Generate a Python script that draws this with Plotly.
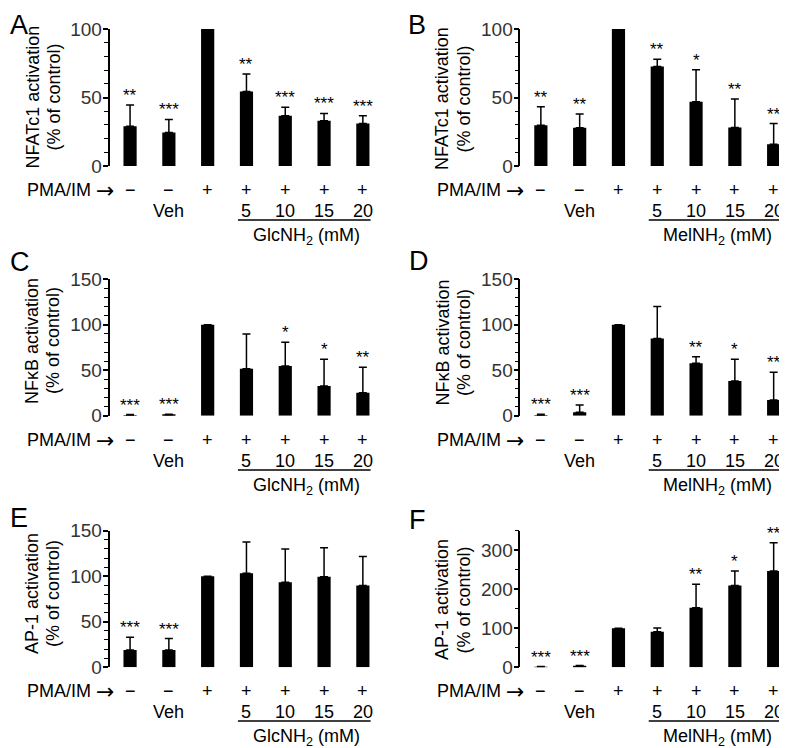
import plotly.graph_objects as go

# ---------------- data ----------------
positions = [0, 1, 2, 3, 4, 5, 6]
pma_labels = ["−", "−", "+", "+", "+", "+", "+"]
dose_labels = ["", "Veh", "", "5", "10", "15", "20"]

A_vals = [29, 24.5, 100, 54.3, 36.7, 33, 31]
A_err = [15.5, 9.5, 0, 12.9, 6.1, 5.4, 5.7]
A_sig = ["**", "***", "", "**", "***", "***", "***"]

B_vals = [29.8, 27.9, 100, 72.6, 46.9, 28.1, 15.9]
B_err = [13.5, 10.0, 0, 5.4, 23.3, 20.8, 15.1]
B_sig = ["**", "**", "", "**", "*", "**", "**"]

C_vals = [0.3, 1.0, 100, 51.7, 54.6, 32.6, 25.3]
C_err = [1.0, 0.6, 0, 38.2, 26.1, 29.4, 27.9]
C_sig = ["***", "***", "", "", "*", "*", "**"]

D_vals = [0.3, 3.7, 100, 85, 57.6, 38.1, 17.2]
D_err = [1.2, 8.0, 0, 35, 7.3, 23.9, 30.5]
D_sig = ["***", "***", "", "", "**", "*", "**"]

E_vals = [19, 19, 100, 103.2, 93.5, 99.3, 89.8]
E_err = [13.9, 12.5, 0, 34.4, 36.3, 32, 32]
E_sig = ["***", "***", "", "", "", "", ""]

F_vals = [1, 3, 100, 91, 152.6, 209.7, 247]
F_err = [1, 1.5, 0, 9.6, 60.4, 37.3, 72]
F_sig = ["***", "***", "", "", "**", "*", "**"]

panel_letters = ["A", "B", "C", "D", "E", "F"]
y_titles = ["NFATc1 activation", "NFATc1 activation", "NFκB activation",
            "NFκB activation", "AP-1 activation", "AP-1 activation"]
group_labels = ["GlcNH<sub>2</sub> (mM)", "MelNH<sub>2</sub> (mM)"] * 3
y_ranges = [[0, 100], [0, 100], [0, 150], [0, 150], [0, 150], [0, 350]]
y_tickvals = [[0, 50, 100], [0, 50, 100], [0, 50, 100, 150], [0, 50, 100, 150],
              [0, 50, 100, 150], [0, 100, 200, 300]]
y_minor = [10, 10, 10, 10, 10, 50]

vals = [A_vals, B_vals, C_vals, D_vals, E_vals, F_vals]
errs = [A_err, B_err, C_err, D_err, E_err, F_err]
sigs = [A_sig, B_sig, C_sig, D_sig, E_sig, F_sig]

# ---------------- layout geometry (page pixels) ----------------
PAGE_W, PAGE_H = 787, 748
OFF = 8                      # default page body margin
W, H = PAGE_W - OFF, PAGE_H - OFF

def fx(p):
    return (p - OFF) / W

def fy(p):
    return 1 - (p - OFF) / H

col_axis_px = [109.5, 520.3]
spacing_px = 38.8
x_range = [-0.53, 6.2]
row_top_px = [29, 279.3, 530.7]
row_bot_px = [166, 415.7, 667.3]
row_off = [0, 250, 501]
letter_box_top_px = [8, 8, 249, 248, 505, 507]
letter_shift = [0, 0, 4, 4, 4, 4]
letter_left_px = [8, 406, 8, 407, 8, 407]
title_x_px = [(32, 53), (442, 463.5)]
title_y_px = [97.5, 99, 341, 342.5, 594, 600]

FONT = "Liberation Sans, Arial, Helvetica, sans-serif"

fig = go.Figure()
layout = dict(width=W, height=H, margin=dict(l=0, r=0, t=0, b=0, pad=0, autoexpand=False),
              paper_bgcolor="white", plot_bgcolor="white", showlegend=False,
              font=dict(family=FONT, color="black", size=18))
annotations = []
shapes = []

for i in range(6):
    row, col = divmod(i, 2)
    n = i + 1
    xa = "x" if n == 1 else f"x{n}"
    ya = "y" if n == 1 else f"y{n}"
    left = col_axis_px[col]
    right = left + (x_range[1] - x_range[0]) * spacing_px
    layout[f"xaxis{'' if n == 1 else n}"] = dict(
        domain=[fx(left), min(1.0, fx(right))], range=x_range, anchor=ya, automargin=False,
        showline=False, showticklabels=False, ticks="", showgrid=False, zeroline=False)
    layout[f"yaxis{'' if n == 1 else n}"] = dict(
        domain=[fy(row_bot_px[row]), fy(row_top_px[row])], range=y_ranges[i], anchor=xa,
        automargin=False,
        showline=True, linecolor="black", linewidth=1.5, showgrid=False, zeroline=False,
        tickvals=y_tickvals[i], ticks="outside", ticklen=5, tickwidth=1.5, tickcolor="black",
        ticklabelstandoff=-3,
        tickfont=dict(size=19, color="#333", family=FONT),
        minor=dict(ticks="outside", ticklen=3.5, tickwidth=1.2, tickcolor="black",
                   tick0=0, dtick=y_minor[i]))

    fig.add_trace(go.Bar(
        x=positions, y=vals[i], xaxis=xa, yaxis=ya, width=0.34,
        marker=dict(color="black", line=dict(width=0)),
        error_y=dict(type="data", symmetric=False, array=errs[i],
                     arrayminus=[0] * 7, color="black", thickness=1.5, width=4),
        cliponaxis=False))

    # significance asterisks
    for p, v, e, s in zip(positions, vals[i], errs[i], sigs[i]):
        if s:
            annotations.append(dict(x=p, y=v + e, xref=xa, yref=ya, text=s,
                                    showarrow=False, yanchor="bottom", xanchor="center",
                                    yshift=-2, font=dict(size=17, color="black")))

    off = row_off[row]
    coff = col_axis_px[col] - col_axis_px[0]
    # PMA/IM row
    annotations.append(dict(x=fx(92.5 + coff), y=fy(190 + off), xref="paper", yref="paper",
                            text="PMA/IM", showarrow=False, xanchor="right",
                            yanchor="middle", font=dict(size=18)))
    annotations.append(dict(x=fx(104.5 + coff), y=fy(190.5 + off), xref="paper", yref="paper",
                            text="→", showarrow=False, xanchor="center",
                            yanchor="middle", font=dict(size=22, family="DejaVu Sans")))
    for p, s in zip(positions, pma_labels):
        annotations.append(dict(x=p, y=fy(190 + off), xref=xa, yref="paper", text=s,
                                showarrow=False, xanchor="center", yanchor="middle",
                                font=dict(size=18)))
    for p, s in zip(positions, dose_labels):
        if s:
            annotations.append(dict(x=p, y=fy(211 + off), xref=xa, yref="paper", text=s,
                                    showarrow=False, xanchor="center", yanchor="middle",
                                    font=dict(size=18)))
    shapes.append(dict(type="line", xref=xa, yref="paper", x0=2.78, x1=6.3,
                       y0=fy(220 + off), y1=fy(220 + off),
                       line=dict(color="black", width=1.5)))
    annotations.append(dict(x=4.55, y=fy(236.5 + off), xref=xa, yref="paper",
                            text=group_labels[i], showarrow=False, xanchor="center",
                            yanchor="middle", font=dict(size=18)))

    # y-axis title (two lines)
    tx1, tx2 = title_x_px[col]
    annotations.append(dict(x=fx(tx1), y=fy(title_y_px[i]), xref="paper", yref="paper",
                            text=y_titles[i], textangle=-90, showarrow=False,
                            xanchor="center", yanchor="middle", font=dict(size=18)))
    annotations.append(dict(x=fx(tx2), y=fy(title_y_px[i]), xref="paper", yref="paper",
                            text="(% of control)", textangle=-90, showarrow=False,
                            xanchor="center", yanchor="middle", font=dict(size=18)))
    # panel letter
    annotations.append(dict(x=fx(letter_left_px[i]), y=fy(letter_box_top_px[i]),
                            xref="paper", yref="paper", text=panel_letters[i],
                            showarrow=False, xanchor="left", yanchor="top",
                            yshift=letter_shift[i], font=dict(size=27)))

layout["annotations"] = annotations
layout["shapes"] = shapes
fig.update_layout(**layout)
fig.write_html("out.html")
